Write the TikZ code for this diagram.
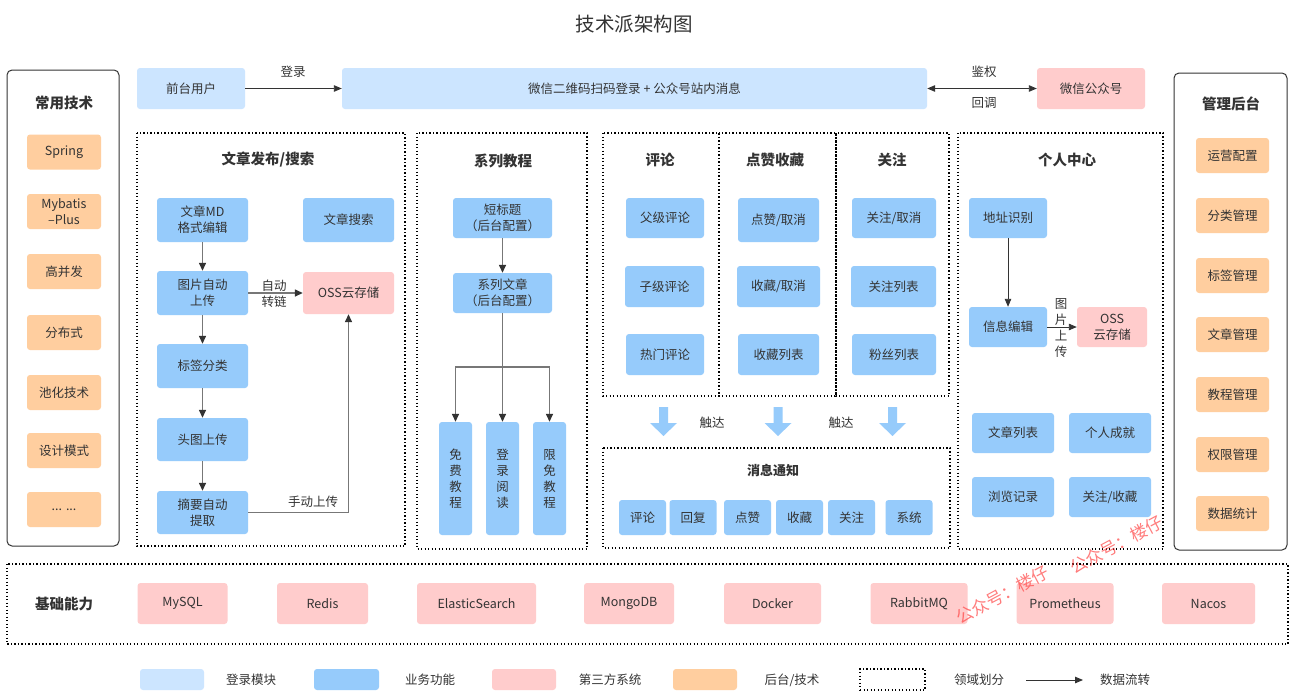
\documentclass[tikz,border=0pt]{standalone}
\usepackage{fontspec}
\setmainfont{Noto Sans CJK SC}
\usetikzlibrary{arrows.meta}
\definecolor{cLogin}{HTML}{CCE5FF}
\definecolor{cBiz}{HTML}{96CBFB}
\definecolor{cPink}{HTML}{FFCCCC}
\definecolor{cOrg}{HTML}{FFCE9F}
\definecolor{cTxt}{HTML}{333333}
\definecolor{cDark}{HTML}{333333}
\definecolor{cGray}{HTML}{777777}
\definecolor{cWm}{HTML}{FF4444}
\newcommand\fsz{\fontsize{12.5}{16}\selectfont}
\newcommand\fhd{\fontsize{14.5}{18}\selectfont\bfseries}
\newcommand\bigarr[2]{\fill[cBiz] (#1-4.5,#2) -- (#1+4.5,#2) -- (#1+4.5,#2+16) -- (#1+13.5,#2+16) -- (#1,#2+29) -- (#1-13.5,#2+16) -- (#1-4.5,#2+16) -- cycle;}
\tikzset{
  base/.style={rounded corners=3pt, inner sep=0pt, align=center, text=cTxt, font=\fsz},
  lb/.style={base, fill=cLogin},
  bb/.style={base, fill=cBiz},
  pk/.style={base, fill=cPink},
  og/.style={base, fill=cOrg},
  sz/.style 2 args={minimum width=#1pt, minimum height=#2pt},
  hd/.style={font=\fhd, text=cTxt},
  lbl/.style={font=\fsz, text=cTxt, align=center},
  dom/.style={draw=black, line width=1.3pt, dash pattern=on 1.3pt off 2.2pt},
  panel/.style={draw=cDark, line width=1pt, rounded corners=5pt},
  arrT/.style={draw=cDark, line width=0.9pt, -{Triangle[length=8pt,width=6.5pt]}},
  arrD/.style={draw=cDark, line width=0.9pt, {Triangle[length=8pt,width=6.5pt]}-{Triangle[length=8pt,width=6.5pt]}},
  arrG/.style={draw=cGray, line width=1.4pt, -{Triangle[length=8pt,width=7pt,color=cDark]}},
  lineG/.style={draw=cGray, line width=1.4pt},
  wm/.style={font=\fontsize{17}{20}\selectfont, text=cWm, opacity=0.7}
}
\begin{document}
\begin{tikzpicture}[x=1pt,y=-1pt]
\useasboundingbox (0,0) rectangle (1293,699);
\fill[white] (0,0) rectangle (1293,699);

\node[font=\fontsize{19.5}{22}\selectfont, text=cTxt] (title) at (634,24) {技术派架构图};

% left panel
\draw[panel] (7,70) rectangle (119,546);
\node[hd] (lt) at (64,103) {常用技术};
\node[og, sz={74}{35}] (t1) at (64,152) {Spring};
\node[og, sz={74}{35}] (t2) at (64,211.5) {Mybatis\\–Plus};
\node[og, sz={74}{35}] (t3) at (64,271.5) {高并发};
\node[og, sz={74}{35}] (t4) at (64,332.5) {分布式};
\node[og, sz={74}{35}] (t5) at (64,392.5) {池化技术};
\node[og, sz={74}{35}] (t6) at (64,450.5) {设计模式};
\node[og, sz={74}{35}] (t7) at (64,509.5) {...\hspace{4pt}...};

% right panel
\draw[panel] (1174,73) rectangle (1287,550);
\node[hd] (rt) at (1231,104) {管理后台};
\node[og, sz={73}{35}] (m1) at (1232.5,155.5) {运营配置};
\node[og, sz={73}{35}] (m2) at (1232.5,215.5) {分类管理};
\node[og, sz={73}{35}] (m3) at (1232.5,275.5) {标签管理};
\node[og, sz={73}{35}] (m4) at (1232.5,334.5) {文章管理};
\node[og, sz={73}{35}] (m5) at (1232.5,394.5) {教程管理};
\node[og, sz={73}{35}] (m6) at (1232.5,454.5) {权限管理};
\node[og, sz={73}{35}] (m7) at (1232.5,513.5) {数据统计};

% top row
\node[lb, sz={108}{41}] (fe) at (191,88.5) {前台用户};
\node[lb, sz={585}{41}] (login) at (634.5,88.5) {微信二维码扫码登录 + 公众号站内消息};
\node[pk, sz={108}{41}] (wx) at (1091,88.5) {微信公众号};
\draw[arrT] (fe) -- (login);
\node[lbl] (lg) at (293,72) {登录};
\draw[arrD] (login) -- (wx);
\node[lbl] (jq) at (984,72) {鉴权};
\node[lbl] (hd1) at (984,103) {回调};

% article section
\draw[dom] (137,133) rectangle (405,546);
\node[hd] (at) at (268,160) {文章发布/搜索};
\node[bb, sz={91}{44}] (md) at (202.5,220) {文章MD\\格式编辑};
\node[bb, sz={91}{44}] (search) at (348.5,220) {文章搜索};
\node[bb, sz={91}{44}] (img) at (202.5,293) {图片自动\\上传};
\node[pk, sz={91}{42}] (oss1) at (348.5,293) {OSS云存储};
\node[bb, sz={91}{44}] (tag) at (202.5,366) {标签分类};
\node[bb, sz={91}{43}] (cover) at (202.5,439.5) {头图上传};
\node[bb, sz={91}{43}] (abs) at (202.5,512.5) {摘要自动\\提取};
\draw[arrG] (md) -- (img);
\draw[arrG] (img) -- (oss1);
\draw[arrG] (img) -- (tag);
\draw[arrG] (tag) -- (cover);
\draw[arrG] (cover) -- (abs);
\draw[arrG] (abs.east) -| (oss1.south);
\node[lbl] (zd) at (274,293.5) {自动\\转链};
\node[lbl] (sd) at (313,502) {手动上传};

% series section
\draw[dom] (417,133) rectangle (587,549);
\node[hd] (st) at (503,161) {系列教程};
\node[bb, sz={99}{40}] (short) at (502.5,218) {短标题\\（后台配置）};
\node[bb, sz={99}{40}] (series) at (502.5,293) {系列文章\\（后台配置）};
\node[bb, sz={33}{113}] (v1) at (455.5,478.5) {免\\费\\教\\程};
\node[bb, sz={33}{113}] (v2) at (502.5,478.5) {登\\录\\阅\\读};
\node[bb, sz={33}{113}] (v3) at (549.5,478.5) {限\\免\\教\\程};
\draw[arrG] (short) -- (series);
\coordinate (br) at (502.5,367);
\draw[lineG] (series.south) -- (br);
\draw[arrG] (br) -| (v1.north);
\draw[arrG] (br) -| (v3.north);
\draw[arrG] (br) -- (v2.north);

% interaction
\draw[dom] (603,133) rectangle (719,396);
\draw[dom] (719,133) rectangle (836,396);
\draw[dom] (836,133) rectangle (949,396);
\node[hd] (ct) at (660,160) {评论};
\node[hd] (lt2) at (775,160) {点赞收藏};
\node[hd] (ft) at (892,160) {关注};
\node[bb, sz={78}{40}] (c1) at (665,218) {父级评论};
\node[bb, sz={79}{41}] (c2) at (664.5,286.5) {子级评论};
\node[bb, sz={78}{41}] (c3) at (665,354.5) {热门评论};
\node[bb, sz={81}{44}] (l1) at (778.5,220) {点赞/取消};
\node[bb, sz={83}{41}] (l2) at (778.5,286.5) {收藏/取消};
\node[bb, sz={81}{41}] (l3) at (778.5,354.5) {收藏列表};
\node[bb, sz={84}{40}] (f1) at (894,218) {关注/取消};
\node[bb, sz={85}{41}] (f2) at (893.5,286.5) {关注列表};
\node[bb, sz={84}{41}] (f3) at (894,354.5) {粉丝列表};

\bigarr{663.5}{407}
\bigarr{778}{407}
\bigarr{892.5}{407}
\node[lbl] (cd1) at (712,423) {触达};
\node[lbl] (cd2) at (841,423) {触达};

% notification
\draw[dom] (603,448) rectangle (950,548);
\node[hd, font=\fontsize{13}{16}\selectfont\bfseries] (nt) at (773,470) {消息通知};
\node[bb, sz={47}{35}] (n1) at (642.5,517.5) {评论};
\node[bb, sz={47}{35}] (n2) at (693,517.5) {回复};
\node[bb, sz={47}{35}] (n3) at (747.5,517.5) {点赞};
\node[bb, sz={47}{35}] (n4) at (799.5,517.5) {收藏};
\node[bb, sz={47}{35}] (n5) at (851.5,517.5) {关注};
\node[bb, sz={47}{35}] (n6) at (909,517.5) {系统};

% personal center
\draw[dom] (958,133) rectangle (1163,549);
\node[hd] (pt) at (1067,160) {个人中心};
\node[bb, sz={78}{40}] (addr) at (1008,218) {地址识别};
\node[bb, sz={78}{40}] (info) at (1008,327) {信息编辑};
\node[pk, sz={70}{40}] (oss2) at (1112,327) {OSS\\云存储};
\draw[arrT] (addr) -- (info);
\draw[arrT] (info) -- (oss2);
\node[lbl] (tpsc) at (1061,328) {图\\片\\上\\传};
\node[bb, sz={82}{40}] (al) at (1013,433) {文章列表};
\node[bb, sz={82}{40}] (ach) at (1110,433) {个人成就};
\node[bb, sz={82}{40}] (hist) at (1013,497) {浏览记录};
\node[bb, sz={82}{40}] (fol) at (1110,497) {关注/收藏};

% foundation
\draw[dom] (7,564) rectangle (1288,644);
\node[hd] (ft2) at (64,604) {基础能力};
\node[pk, sz={90}{41}] (b1) at (182.5,603.5) {MySQL};
\node[pk, sz={91}{41}] (b2) at (322.5,603.5) {Redis};
\node[pk, sz={119}{41}] (b3) at (476.5,603.5) {ElasticSearch};
\node[pk, sz={90}{41}] (b4) at (629,603.5) {MongoDB};
\node[pk, sz={97}{41}] (b5) at (772.5,603.5) {Docker};
\node[pk, sz={97}{41}] (b6) at (919,603.5) {RabbitMQ};
\node[pk, sz={97}{41}] (b7) at (1065,603.5) {Prometheus};
\node[pk, sz={93}{41}] (b8) at (1208.5,603.5) {Nacos};

% legend
\node[lb, sz={64}{21}] (g1) at (172,679.5) {};
\node[lbl] (g1t) at (251,680) {登录模块};
\node[bb, sz={65}{21}] (g2) at (346.5,679.5) {};
\node[lbl] (g2t) at (430,680) {业务功能};
\node[pk, sz={64}{21}] (g3) at (524,679.5) {};
\node[lbl] (g3t) at (610,680) {第三方系统};
\node[og, sz={64}{21}] (g4) at (705,679.5) {};
\node[lbl] (g4t) at (792,680) {后台/技术};
\node[dom, sz={65}{21}, inner sep=0pt] (g5) at (892.5,679.5) {};
\node[lbl] (g5t) at (979,680) {领域划分};
\coordinate (la1) at (1026,680);
\coordinate (la2) at (1083,680);
\draw[arrT] (la1) -- (la2);
\node[lbl] (g6t) at (1125,680) {数据流转};

% watermark
\node[wm, rotate=28] (wm1) at (1002,595) {公众号：楼仔};
\node[wm, rotate=28] (wm2) at (1116,545) {公众号：楼仔};
\end{tikzpicture}
\end{document}
